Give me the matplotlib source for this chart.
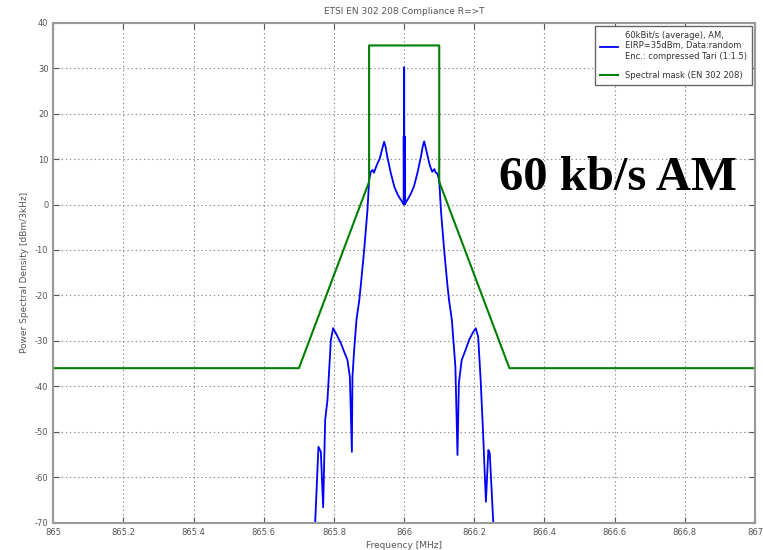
import numpy as np
import matplotlib
matplotlib.use("Agg")
import matplotlib.pyplot as plt

plt.rcParams['axes.unicode_minus'] = False

# measured PSD of the 60 kBit/s AM signal (offset from 866 MHz, dBm/3kHz)
psd_offset = [-0.2600, -0.2537, -0.2443, -0.2375, -0.2309, -0.2252, -0.2186,
              -0.2089, -0.2024, -0.1947, -0.1805, -0.1710, -0.1616, -0.1548,
              -0.1490, -0.1474, -0.1425, -0.1360, -0.1280, -0.1226, -0.1140,
              -0.1046, -0.0998, -0.0950, -0.0900, -0.0860, -0.0800, -0.0740,
              -0.0700, -0.0620, -0.0570, -0.0530, -0.0480, -0.0380, -0.0280,
              -0.0180, -0.0090, -0.0040, -0.0015, -0.0012, -0.0006, -0.0003,
              0.0000, 0.0003, 0.0006, 0.0012, 0.0015,
              0.0040, 0.0090, 0.0180, 0.0280, 0.0380, 0.0480, 0.0530,
              0.0570, 0.0620, 0.0700, 0.0740, 0.0800, 0.0860, 0.0900, 0.0950,
              0.1000, 0.1050, 0.1140, 0.1230, 0.1280, 0.1360, 0.1460, 0.1520,
              0.1560, 0.1640, 0.1750, 0.1850, 0.1950, 0.2040, 0.2110, 0.2180,
              0.2250, 0.2330, 0.2400, 0.2440, 0.2540, 0.2600]
psd_db = [-80.0, -70.0, -53.3, -54.4, -66.6, -47.4, -43.0,
          -29.8, -27.2, -28.3, -30.5, -32.4, -34.2, -37.9,
          -54.4, -37.9, -32.0, -25.4, -21.1, -17.0, -10.0,
          -1.2, 5.4, 7.2, 7.6, 7.0, 8.3, 9.4,
          10.0, 12.4, 13.8, 12.7, 10.5, 6.9, 3.9,
          2.1, 1.0, 0.4, 0.0, 15.0, 0.2, 15.5,
          30.2, 15.5, 0.2, 15.0, 0.0,
          0.4, 1.0, 2.2, 4.0, 7.0, 10.6, 12.8,
          13.9, 12.3, 9.6, 8.4, 7.2, 7.8, 7.0, 6.8,
          5.2, -1.5, -10.0, -17.5, -21.1, -25.4, -35.7, -55.1,
          -39.3, -34.2, -32.0, -29.8, -28.3, -27.2, -29.1, -38.6,
          -50.3, -65.4, -54.0, -54.7, -70.0, -80.0]

# ETSI EN 302 208 spectral mask
mask_freq = [865.0, 865.7, 865.9, 865.9, 866.1, 866.1, 866.3, 867.0]
mask_db = [-36, -36, 5, 35, 35, 5, -36, -36]

x_ticks = np.arange(865.0, 867.01, 0.2)
x_labels = ["865", "865.2", "865.4", "865.6", "865.8", "866",
            "866.2", "866.4", "866.6", "866.8", "867"]
y_ticks = np.arange(-70, 41, 10)

grey = "#555555"

fig = plt.figure(figsize=(7.63, 5.5), dpi=100)
ax = fig.add_axes([0.0699, 0.0496, 0.9196, 0.9091])

freq = [866.0 + f for f in psd_offset]
ax.plot(freq, psd_db, color="#0000ff", lw=1.3,
        label="60kBit/s (average), AM,\nEIRP=35dBm, Data:random\n"
              "Enc.: compressed Tari (1:1.5)")
ax.plot(mask_freq, mask_db, color="#008000", lw=1.5,
        label="Spectral mask (EN 302 208)")

ax.set_xlim(865, 867)
ax.set_ylim(-70, 40)
ax.set_xticks(x_ticks)
ax.set_xticklabels(x_labels)
ax.set_yticks(y_ticks)
ax.tick_params(direction="in", labelsize=6, colors=grey, labelcolor=grey,
               length=4, top=True, right=True)
ax.grid(True, linestyle=(0, (1.2, 2.5)), color="#888888", lw=0.8)
for s in ax.spines.values():
    s.set_color("#999999")
    s.set_linewidth(1.5)

ax.set_title("ETSI EN 302 208 Compliance R=>T", fontsize=6.5, color=grey,
             pad=6)
ax.set_xlabel("Frequency [MHz]", fontsize=6.5, color=grey, labelpad=3)
ax.set_ylabel("Power Spectral Density [dBm/3kHz]", fontsize=6.5, color=grey,
              labelpad=4)

leg = ax.legend(loc="upper right", fontsize=6, fancybox=False, framealpha=1,
                edgecolor="#666666", borderpad=0.6, handlelength=2.2,
                labelspacing=1.2, borderaxespad=0.4)
leg.get_frame().set_linewidth(1.0)
for t in leg.get_texts():
    t.set_color("#333333")

ax.text(0.805, 0.69, "60 kb/s AM", transform=ax.transAxes,
        fontsize=35, fontweight="bold", family="Liberation Serif",
        ha="center", va="center", color="black")

fig.savefig("out.png", dpi=100)
